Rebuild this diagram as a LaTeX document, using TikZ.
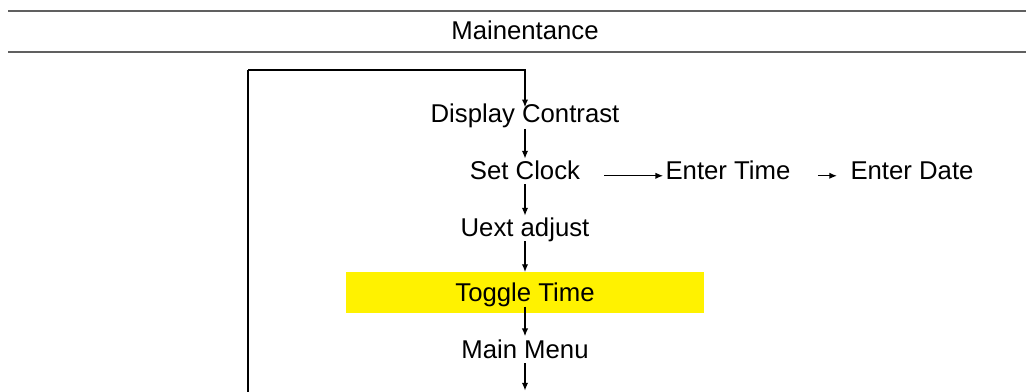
\documentclass[tikz,border=0pt]{standalone}
\usepackage{fontspec}
\setmainfont{Liberation Sans}
\usepackage{tikz}
\usetikzlibrary{%
  arrows.meta,%
  positioning,%
  calc%
}

\tikzset{
  menu/.style={inner sep=0pt, text height=13pt, text depth=0pt,
    font=\fontsize{18.3}{20}\selectfont, anchor=base},
  flow/.style={line width=0.9pt, -{Latex[length=5.5pt,width=4.5pt]}},
  rule/.style={line width=1.4pt, gray!75!black}
}

\begin{document}
\begin{tikzpicture}[x=0.025cm, y=-0.025cm]
\useasboundingbox (0,0) rectangle (1026,392);
% title bar
\draw[rule] (8,11) -- (1026,11);
\draw[rule] (8,52) -- (1026,52);
\node[menu] (title) at (525,40) {Mainentance};
% menu column
\node[menu] (disp) at (525,123) {Display Contrast};
\node[menu] (clock) at (525,180) {Set Clock};
\node[menu] (uext) at (525,237) {Uext adjust};
\node[menu, fill=yellow, minimum width=358*0.025cm, minimum height=41*0.025cm,
      text depth=6pt, text height=19pt] (tog) at (525,302) {Toggle Time};
\node[menu] (main) at (525,359) {Main Menu};
% clock sub menu
\node[menu] (etime) at (728,180) {Enter Time};
\node[menu] (edate) at (912,180) {Enter Date};
\coordinate (out) at (525,392);
\coordinate (loopb) at (248,392);
\coordinate (loopt) at (248,70);
% arrows
\draw[line width=0.9pt] (loopb) -- (loopt);
\draw[flow] (loopt) -| ([yshift=-2pt]disp.north);
\draw[flow] ([yshift=-4pt]disp.south) -- ([yshift=2pt]clock.north);
\draw[flow] ([yshift=-3pt]clock.south) -- ([yshift=2pt]uext.north);
\draw[flow] ([yshift=-3pt]uext.south) -- (tog.north);
\draw[flow] ([yshift=5pt]tog.south) -- ([yshift=3pt]main.north);
\draw[flow] ([yshift=-3pt]main.south) -- ([yshift=1pt]out);
\draw[flow, shorten <=0.6cm] ([yshift=-3.5pt]clock.east) -- ([yshift=-3.5pt,xshift=-1.5pt]etime.west);
\draw[flow, shorten <=0.68cm] ([yshift=-3.5pt]etime.east) -- ([yshift=-3.5pt,xshift=-0.33cm]edate.west);
\end{tikzpicture}
\end{document}
